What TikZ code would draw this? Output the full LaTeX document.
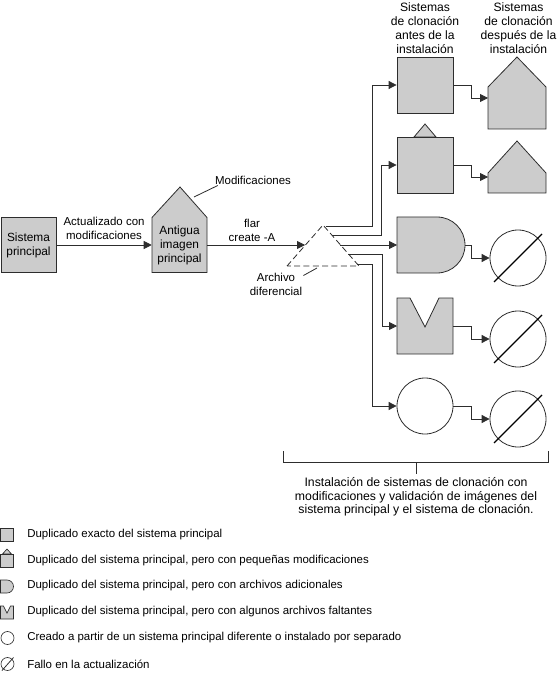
\documentclass[tikz,border=0pt]{standalone}
\usepackage{fontspec}
\setmainfont{Liberation Sans}
\usetikzlibrary{arrows.meta,calc}
\definecolor{shpfill}{RGB}{204,204,204}
\definecolor{ln}{RGB}{45,45,45}
\begin{document}
\begin{tikzpicture}[x=0.75pt,y=-0.75pt,
  every node/.style={font=\fontsize{8.6}{10.5}\selectfont, inner sep=0pt, align=center},
  big/.style={font=\fontsize{9.1}{10.5}\selectfont},
  boxt/.style={font=\fontsize{8.9}{10.5}\selectfont},
  shp/.style={draw=ln, fill=shpfill, line width=0.6pt},
  con/.style={draw=ln, line width=0.6pt},
  arr/.style={con, -{Triangle[length=6pt,width=6pt]}},
  ring/.style={draw=ln, line width=0.6pt, circle, minimum size=42pt, fill=white},
  slash/.style={draw=black, line width=1pt},
  body/.style={minimum width=41.25pt, minimum height=41.25pt},
  licon/.style={draw=ln, fill=shpfill, line width=0.5pt},
  ltext/.style={anchor=west}]
\useasboundingbox (0,0) rectangle (557,673);

% main system
\node[shp, body, boxt] (sp) at (28.5,245) {Sistema\\principal};
% old image (house)
\draw[shp] (152,272.5) -- (152,217.5) -- (180,187) -- (207,217.5) -- (207,272.5) -- cycle;
\node[body, boxt] (ant) at (179.5,245) {Antigua\\imagen\\principal};
\node (mod) at (253,180) {Modificaciones};
\coordinate (modp) at (194,197);
\draw[con] (modp) -- ($(mod.south west)+(3,1)$);

\draw[arr] (sp) -- (ant) node[midway, above=4pt] (lab1) {Actualizado con\\modificaciones};

% differential archive
\draw[con, dash pattern=on 4.5pt off 2.5pt] (287,266) -- (323,225) -- (359,266) -- cycle;
\coordinate (triL) at (305,245);
\draw[arr] (ant) -- (triL);
\node (lab2) at (252,230) {flar\\create -A};
\node (arch) at (276,284) {Archivo\\diferencial};
\draw[con] ($(arch.north east)+(1,3)$) -- (317,268);

\coordinate (t1) at (326,226);
\coordinate (t2) at (332,235);
\coordinate (t3) at (340,245);
\coordinate (t4) at (348,254);
\coordinate (t5) at (357,264);

% headers
\node[big] (h1) at (425,28) {Sistemas\\de clonación\\antes de la\\instalación};
\node[big] (h2) at (518.5,28) {Sistemas\\de clonación\\después de la\\instalación};

% clone systems before
\node[shp, minimum width=42pt, minimum height=42pt] (c1) at (425,85) {};
\draw[shp] (414,137) -- (425,124) -- (436,137) -- cycle;
\node[shp, minimum width=42pt, minimum height=42pt] (c2) at (425,165) {};
\draw[shp] (397,217) -- (437,217) arc[start angle=-90, end angle=90, radius=28] -- (397,273) -- cycle;
\coordinate (c3w) at (397,245);
\coordinate (c3e) at (465,245);
\draw[shp] (397,298) -- (410,298) -- (425,327) -- (439,298) -- (453,298) -- (453,354) -- (397,354) -- cycle;
\coordinate (c4w) at (397,326);
\coordinate (c4e) at (453,326);
\node[ring] (c5) at (425,406) {};

\draw[arr] (t1) -| ($(c1.west)+(-24,0)$) -- (c1.west);
\draw[arr] (t2) -| ($(c2.west)+(-15,0)$) -- (c2.west);
\draw[arr] (t3) -- (c3w);
\draw[arr] (t4) -| ($(c4w)+(-15,0)$) -- (c4w);
\draw[arr] (t5) -| ($(c5.west)+(-24,0)$) -- (c5.west);

% clone systems after
\draw[shp] (488,129) -- (488,87) -- (517,57) -- (546,87) -- (546,129) -- cycle;
\coordinate (r1w) at (488,98);
\draw[shp] (488,193) -- (488,173) -- (517,141) -- (546,173) -- (546,193) -- cycle;
\coordinate (r2w) at (488,177);
\node[ring] (r3) at (518,258) {};
\node[ring] (r4) at (518,339) {};
\node[ring] (r5) at (518,419) {};
\foreach \r in {r3,r4,r5}{
  \draw[slash] ($(\r)+(-24,24)$) -- ($(\r)+(24,-24)$);
}

\draw[arr] (c1.east) -- ++(18,0) |- (r1w);
\draw[arr] (c2.east) -- ++(18,0) |- (r2w);
\draw[arr] (c3e) -- ++(6,0) |- (r3.west);
\draw[arr] (c4e) -- ++(18,0) |- (r4.west);
\draw[arr] (c5.east) -- ++(18,0) |- (r5.west);

% bracket
\draw[con] (283,451) |- (548,462) -- (548,451);
\coordinate (brk) at (416,462);
\node[font=\fontsize{9.2}{10}\selectfont] (bt) at (416,497) {Instalación de sistemas de clonación con\\modificaciones y validación de imágenes del\\sistema principal y el sistema de clonación.};
\draw[con] (brk) -- (416,474);

% legend
\draw[licon] (0.5,528.5) rectangle (13.5,541.5);
\node[ltext] (l1) at (27,535) {Duplicado exacto del sistema principal};
\draw[licon] (2.5,554) -- (7,549) -- (11.5,554) -- cycle;
\draw[licon] (0.5,554) rectangle (13.5,567);
\node[ltext] (l2) at (27,561) {Duplicado del sistema principal, pero con pequeñas modificaciones};
\draw[licon] (0.5,580) -- (7,580) arc[start angle=-90, end angle=90, radius=6.5] -- (0.5,593) -- cycle;
\node[ltext] (l3) at (27,586) {Duplicado del sistema principal, pero con archivos adicionales};
\draw[licon] (0.5,606) -- (3.5,606) -- (7,613) -- (10.5,606) -- (13.5,606) -- (13.5,619) -- (0.5,619) -- cycle;
\node[ltext] (l4) at (27,612) {Duplicado del sistema principal, pero con algunos archivos faltantes};
\draw[draw=ln, line width=0.5pt] (7.5,638) circle[radius=6.5];
\node[ltext] (l5) at (27,638) {Creado a partir de un sistema principal diferente o instalado por separado};
\draw[draw=ln, line width=0.5pt] (7.5,664) circle[radius=6.5];
\draw[draw=ln, line width=0.6pt] (2,670.5) -- (13.5,657.5);
\node[ltext] (l6) at (27,664) {Fallo en la actualización};
\end{tikzpicture}
\end{document}
